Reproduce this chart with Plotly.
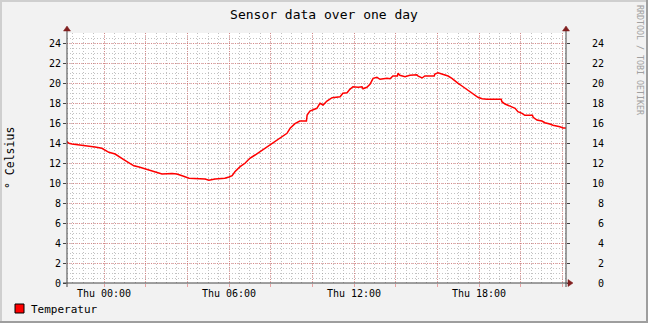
import plotly.graph_objects as go

# ---------------- data ----------------
times = [
    "2024-01-03 22:13", "2024-01-03 22:19", "2024-01-03 22:28", "2024-01-03 23:05",
    "2024-01-03 23:17", "2024-01-03 23:34", "2024-01-03 23:54", "2024-01-04 00:03",
    "2024-01-04 00:14", "2024-01-04 00:32", "2024-01-04 00:43", "2024-01-04 00:58",
    "2024-01-04 01:12", "2024-01-04 01:26", "2024-01-04 01:41", "2024-01-04 01:58",
    "2024-01-04 02:18", "2024-01-04 02:38", "2024-01-04 02:47", "2024-01-04 03:16",
    "2024-01-04 03:30", "2024-01-04 03:45", "2024-01-04 04:05", "2024-01-04 04:51",
    "2024-01-04 05:02", "2024-01-04 05:20", "2024-01-04 05:48", "2024-01-04 06:00",
    "2024-01-04 06:09", "2024-01-04 06:17", "2024-01-04 06:32", "2024-01-04 06:46",
    "2024-01-04 07:00", "2024-01-04 07:15", "2024-01-04 07:29", "2024-01-04 07:44",
    "2024-01-04 07:58", "2024-01-04 08:12", "2024-01-04 08:27", "2024-01-04 08:47",
    "2024-01-04 08:56", "2024-01-04 09:10", "2024-01-04 09:24", "2024-01-04 09:43",
    "2024-01-04 09:45", "2024-01-04 09:53", "2024-01-04 10:13", "2024-01-04 10:22",
    "2024-01-04 10:31", "2024-01-04 10:42", "2024-01-04 10:57", "2024-01-04 11:20",
    "2024-01-04 11:28", "2024-01-04 11:40", "2024-01-04 11:48", "2024-01-04 11:57",
    "2024-01-04 12:12", "2024-01-04 12:23", "2024-01-04 12:26", "2024-01-04 12:37",
    "2024-01-04 12:46", "2024-01-04 12:55", "2024-01-04 13:06", "2024-01-04 13:15",
    "2024-01-04 13:35", "2024-01-04 13:44", "2024-01-04 13:52", "2024-01-04 14:05",
    "2024-01-04 14:07", "2024-01-04 14:12", "2024-01-04 14:27", "2024-01-04 14:41",
    "2024-01-04 15:01", "2024-01-04 15:04", "2024-01-04 15:16", "2024-01-04 15:24",
    "2024-01-04 15:51", "2024-01-04 15:53", "2024-01-04 16:02", "2024-01-04 16:16",
    "2024-01-04 16:31", "2024-01-04 16:42", "2024-01-04 16:51", "2024-01-04 17:00",
    "2024-01-04 17:11", "2024-01-04 17:20", "2024-01-04 17:28", "2024-01-04 17:40",
    "2024-01-04 17:48", "2024-01-04 17:57", "2024-01-04 18:09", "2024-01-04 18:23",
    "2024-01-04 19:04", "2024-01-04 19:06", "2024-01-04 19:15", "2024-01-04 19:29",
    "2024-01-04 19:44", "2024-01-04 19:52", "2024-01-04 20:04", "2024-01-04 20:12",
    "2024-01-04 20:34", "2024-01-04 20:36", "2024-01-04 20:47", "2024-01-04 21:01",
    "2024-01-04 21:10", "2024-01-04 21:24", "2024-01-04 21:33", "2024-01-04 21:53",
    "2024-01-04 22:02", "2024-01-04 22:10",
]
temperatur = [
    14.15, 13.97, 13.90, 13.77,
    13.70, 13.60, 13.47, 13.30,
    13.07, 12.90, 12.62, 12.32,
    12.02, 11.72, 11.60, 11.42,
    11.22, 10.98, 10.90, 10.95,
    10.90, 10.72, 10.47, 10.40,
    10.28, 10.40, 10.47, 10.60,
    10.73, 11.13, 11.63, 11.97,
    12.47, 12.80, 13.13, 13.47,
    13.80, 14.13, 14.52, 14.97,
    15.47, 15.93, 16.20, 16.20,
    16.80, 17.20, 17.47, 17.97,
    17.80, 18.20, 18.53, 18.63,
    18.97, 19.03, 19.37, 19.63,
    19.57, 19.63, 19.43, 19.57,
    19.87, 20.47, 20.57, 20.37,
    20.47, 20.43, 20.70, 20.70,
    20.97, 20.77, 20.63, 20.77,
    20.83, 20.70, 20.50, 20.70,
    20.70, 20.90, 21.03, 20.90,
    20.70, 20.47, 20.20, 19.97,
    19.70, 19.47, 19.23, 18.97,
    18.80, 18.57, 18.43, 18.37,
    18.37, 18.13, 17.90, 17.70,
    17.47, 17.13, 16.97, 16.77,
    16.77, 16.57, 16.30, 16.20,
    16.03, 15.90, 15.77, 15.63,
    15.50, 15.50,
]
series_name = "Temperatur"

x_range = ["2024-01-03 22:13:26", "2024-01-04 22:10:34"]
x_tickvals = ["2024-01-04 %02d:00" % h for h in range(0, 24, 2)]
x_ticktext = ["Thu 00:00", "", "", "Thu 06:00", "", "", "Thu 12:00", "", "", "Thu 18:00", "", ""]
y_tickvals = list(range(0, 25, 2))
y_ticktext_left = [str(v) for v in y_tickvals]
y_ticktext_right = [("\u00a0" + str(v)) if v < 10 else str(v) for v in y_tickvals]

# ---------------- styling ----------------
W, H = 648, 323
L, R, T, B = 67, 566, 33, 283          # plot area in pixels
FONT = "DejaVu Sans Mono"
BACK = "#F2F2F2"
GRID = "rgba(143,143,143,0.55)"
MGRID = "rgba(222,79,79,0.5)"
ARROW = "#801F1F"
AXIS = "#444444"
LINECOL = "#FF0000"


def px(x):
    return (x - L) / (R - L)


def py(y):
    return (B - y) / (B - T)


fig = go.Figure()
fig.add_trace(go.Scatter(
    x=times, y=temperatur, mode="lines", name=series_name,
    line=dict(color=LINECOL, width=1.5, shape="linear"),
    showlegend=False, hoverinfo="x+y",
))
# invisible companion trace so the right-hand axis is drawn
fig.add_trace(go.Scatter(
    x=times[:1], y=temperatur[:1], mode="lines", yaxis="y2",
    line=dict(width=0), showlegend=False, hoverinfo="skip",
))

shapes = []
# 3D frame
shapes += [
    dict(type="rect", xref="paper", yref="paper", x0=px(0), x1=px(W), y0=py(0), y1=py(2),
         fillcolor="#CFCFCF", line=dict(width=0), layer="above"),
    dict(type="rect", xref="paper", yref="paper", x0=px(0), x1=px(2), y0=py(0), y1=py(H),
         fillcolor="#CFCFCF", line=dict(width=0), layer="above"),
    dict(type="rect", xref="paper", yref="paper", x0=px(0), x1=px(W), y0=py(H - 2), y1=py(H),
         fillcolor="#9E9E9E", line=dict(width=0), layer="above"),
    dict(type="rect", xref="paper", yref="paper", x0=px(W - 2), x1=px(W), y0=py(0), y1=py(H),
         fillcolor="#9E9E9E", line=dict(width=0), layer="above"),
]
# axis lines
shapes += [
    dict(type="line", xref="paper", yref="paper", x0=px(L), x1=px(L), y0=py(B + 4), y1=py(T - 3),
         line=dict(color=AXIS, width=1), layer="above"),
    dict(type="line", xref="paper", yref="paper", x0=px(R), x1=px(R), y0=py(B + 4), y1=py(T - 3),
         line=dict(color=AXIS, width=1), layer="above"),
    dict(type="line", xref="paper", yref="paper", x0=px(L - 4), x1=px(R + 4), y0=py(B), y1=py(B),
         line=dict(color=AXIS, width=1), layer="above"),
]


def tri(points):
    s = "M " + " L ".join("%f,%f" % (px(a), py(b)) for a, b in points) + " Z"
    return dict(type="path", xref="paper", yref="paper", path=s,
                fillcolor=ARROW, line=dict(color=ARROW, width=0.5), layer="above")


shapes += [
    tri([(L - 3.5, T - 2), (L + 3.5, T - 2), (L, T - 7)]),
    tri([(R - 3.5, T - 2), (R + 3.5, T - 2), (R, T - 7)]),
    tri([(R + 2, B - 3.5), (R + 2, B + 3.5), (R + 7, B)]),
]
# legend swatch
shapes.append(dict(type="rect", xref="paper", yref="paper", x0=px(15), x1=px(24), y0=py(313), y1=py(304),
                   fillcolor=LINECOL, line=dict(color="#000000", width=1), layer="above"))

annotations = [
    dict(text="° Celsius", xref="paper", yref="paper", x=px(10), y=py(158), textangle=-90,
         showarrow=False, font=dict(family=FONT, size=11.5, color="#000"), xanchor="center", yanchor="middle"),
    dict(text="RRDTOOL / TOBI OETIKER", xref="paper", yref="paper", x=px(640), y=py(60), textangle=90,
         showarrow=False, font=dict(family=FONT, size=8.3, color="#A0A0A0"), xanchor="center", yanchor="middle"),
    dict(text=series_name, xref="paper", yref="paper", x=px(29), y=py(309.5),
         showarrow=False, font=dict(family=FONT, size=11, color="#000"), xanchor="left", yanchor="middle"),
]

fig.update_layout(
    width=W, height=H,
    margin=dict(l=L, r=W - R, t=T, b=H - B, pad=0),
    paper_bgcolor=BACK, plot_bgcolor="#FFFFFF",
    title=dict(text="Sensor data over one day", x=0.5, xref="container", xanchor="center",
               y=1 - 14 / H, yref="container", yanchor="middle",
               font=dict(family=FONT, size=13, color="#000")),
    font=dict(family=FONT, size=10, color="#000"),
    showlegend=False,
    xaxis=dict(
        type="date", range=x_range, tickmode="array", tickvals=x_tickvals, ticktext=x_ticktext,
        showgrid=True, gridcolor=MGRID, griddash="1px,1px", gridwidth=1,
        ticks="outside", ticklen=3, tickcolor=MGRID, showline=False, zeroline=False,
        ticklabelstandoff=-2,
        tickfont=dict(family=FONT, size=10, color="#000"),
        minor=dict(dtick=30 * 60 * 1000, tick0="2024-01-04 00:00", showgrid=True,
                   gridcolor=GRID, griddash="1px,2px", gridwidth=1),
        fixedrange=True,
    ),
    yaxis=dict(
        range=[0, 25], tickmode="array", tickvals=y_tickvals, ticktext=y_ticktext_left,
        showgrid=True, gridcolor=MGRID, griddash="1px,1px", gridwidth=1,
        ticks="outside", ticklen=3, tickcolor=AXIS, showline=False, zeroline=False,
        tickfont=dict(family=FONT, size=10, color="#000"),
        minor=dict(dtick=0.5, showgrid=True, gridcolor=GRID, griddash="1px,2px", gridwidth=1),
        fixedrange=True,
    ),
    yaxis2=dict(
        range=[0, 25], overlaying="y", side="right", tickmode="array", tickvals=y_tickvals,
        ticktext=y_ticktext_right, showgrid=False, ticks="outside", ticklen=3, tickcolor=AXIS,
        showline=False, zeroline=False, ticklabelstandoff=20,
        tickfont=dict(family=FONT, size=10, color="#000"), fixedrange=True,
    ),
    shapes=shapes,
    annotations=annotations,
)

fig.write_html("out.html")
